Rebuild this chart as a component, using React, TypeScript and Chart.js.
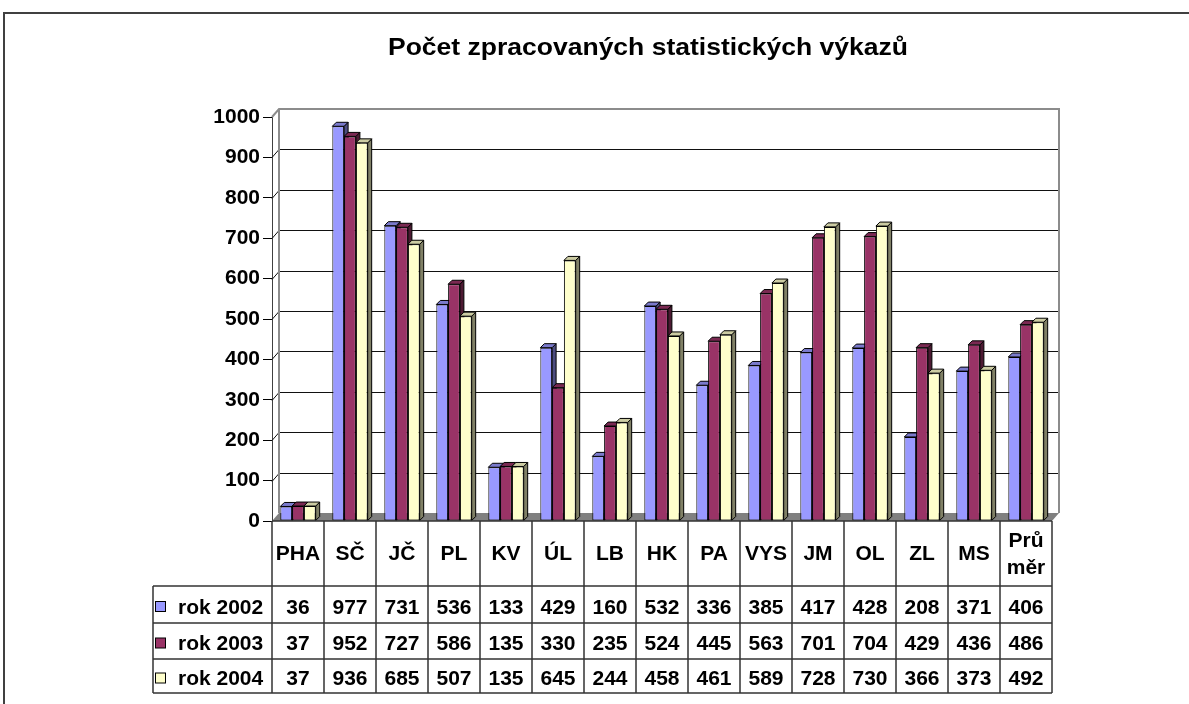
import React, { useEffect, useRef } from 'react';
import { Chart, registerables } from 'chart.js';

Chart.register(...registerables);

const TITLE = 'Počet zpracovaných statistických výkazů';
const CATEGORIES: (string | string[])[] = [
  'PHA', 'SČ', 'JČ', 'PL', 'KV', 'ÚL', 'LB', 'HK', 'PA', 'VYS', 'JM', 'OL', 'ZL', 'MS', ['Prů', 'měr'],
];
const SERIES_LABELS = ['rok 2002', 'rok 2003', 'rok 2004'];
const ROK_2002 = [36, 977, 731, 536, 133, 429, 160, 532, 336, 385, 417, 428, 208, 371, 406];
const ROK_2003 = [37, 952, 727, 586, 135, 330, 235, 524, 445, 563, 701, 704, 429, 436, 486];
const ROK_2004 = [37, 936, 685, 507, 135, 645, 244, 458, 461, 589, 728, 730, 366, 373, 492];
const Y_MIN = 0;
const Y_MAX = 1000;
const Y_STEP = 100;

const FRONT = ['#9999FF', '#993366', '#FFFFCC'];
const TOP = ['#7A7ACC', '#7A2952', '#CCCCA3'];
const SIDE = ['#4D4D80', '#4D1A33', '#808066'];

const FONT = '"Liberation Sans", Arial, sans-serif';
const TEXT_SIZE = 21;
const BAR_DEPTH = 4;
const WALL_DX = 7;
const WALL_DY = 8;

const excelPlugin = {
  id: 'excel3d',
  beforeDatasetsDraw(chart: any) {
    const { ctx, chartArea: a } = chart;
    const y = chart.scales.y;
    const L = a.left, R = a.right, T = a.top, B = a.bottom;
    ctx.save();
    // grid lines on the side and back wall
    ctx.lineWidth = 1;
    ctx.strokeStyle = '#111';
    y.ticks.forEach((t: any) => {
      if (t.value <= Y_MIN || t.value >= Y_MAX) return;
      const py = Math.round(y.getPixelForValue(t.value)) + 0.5;
      ctx.beginPath();
      ctx.moveTo(L, py);
      ctx.lineTo(L + WALL_DX, py - WALL_DY);
      ctx.lineTo(R + WALL_DX, py - WALL_DY);
      ctx.stroke();
    });
    // wall outline
    ctx.strokeStyle = '#8c8c8c';
    ctx.lineWidth = 2;
    ctx.beginPath();
    ctx.moveTo(L, T);
    ctx.lineTo(L + WALL_DX, T - WALL_DY);
    ctx.lineTo(R + WALL_DX, T - WALL_DY);
    ctx.lineTo(R + WALL_DX, B - WALL_DY);
    ctx.moveTo(L + WALL_DX, T - WALL_DY);
    ctx.lineTo(L + WALL_DX, B - WALL_DY);
    ctx.stroke();
    // floor
    ctx.fillStyle = '#808080';
    ctx.beginPath();
    ctx.moveTo(L, B);
    ctx.lineTo(R, B);
    ctx.lineTo(R + WALL_DX, B - WALL_DY);
    ctx.lineTo(L + WALL_DX, B - WALL_DY);
    ctx.closePath();
    ctx.fill();
    // bar sides and tops
    ctx.lineWidth = 1;
    ctx.strokeStyle = '#000';
    const d = BAR_DEPTH;
    chart.data.datasets.forEach((_ds: any, i: number) => {
      const meta = chart.getDatasetMeta(i);
      meta.data.forEach((bar: any) => {
        const p = bar.getProps(['x', 'y', 'base', 'width'], true);
        const left = p.x - p.width / 2;
        const right = p.x + p.width / 2;
        const top = p.y;
        const base = p.base;
        ctx.fillStyle = SIDE[i];
        ctx.beginPath();
        ctx.moveTo(right, top);
        ctx.lineTo(right + d, top - d);
        ctx.lineTo(right + d, base - d);
        ctx.lineTo(right, base);
        ctx.closePath();
        ctx.fill();
        ctx.stroke();
        ctx.fillStyle = TOP[i];
        ctx.beginPath();
        ctx.moveTo(left, top);
        ctx.lineTo(left + d, top - d);
        ctx.lineTo(right + d, top - d);
        ctx.lineTo(right, top);
        ctx.closePath();
        ctx.fill();
        ctx.stroke();
      });
    });
    ctx.restore();
  },
  afterDraw(chart: any) {
    const { ctx, chartArea: a } = chart;
    const x = chart.scales.x;
    const L = a.left, R = a.right, B = a.bottom;
    const labels = chart.data.labels;
    const n = labels.length;
    const colW = (R - L) / n;
    const rows = [B, B + 65, B + 102, B + 138, B + 172];
    const legendLeft = 153;
    ctx.save();
    // table grid
    ctx.strokeStyle = '#333';
    ctx.lineWidth = 1.5;
    ctx.beginPath();
    ctx.moveTo(L, rows[0]);
    ctx.lineTo(R, rows[0]);
    for (let r = 1; r < rows.length; r++) {
      ctx.moveTo(legendLeft, rows[r]);
      ctx.lineTo(R, rows[r]);
    }
    for (let i = 0; i <= n; i++) {
      const px = L + i * colW;
      ctx.moveTo(px, rows[0]);
      ctx.lineTo(px, rows[4]);
    }
    ctx.moveTo(legendLeft, rows[1]);
    ctx.lineTo(legendLeft, rows[4]);
    ctx.stroke();

    ctx.fillStyle = '#000';
    ctx.font = `bold ${TEXT_SIZE}px ${FONT}`;
    ctx.textBaseline = 'alphabetic';
    ctx.textAlign = 'center';
    // header
    labels.forEach((lab: any, i: number) => {
      const cx = x.getPixelForValue(i);
      if (Array.isArray(lab)) {
        ctx.fillText(lab[0], cx, rows[0] + 26);
        ctx.fillText(lab[1], cx, rows[0] + 53);
      } else {
        ctx.fillText(lab, cx, rows[0] + 39);
      }
    });
    // data rows
    chart.data.datasets.forEach((ds: any, r: number) => {
      const top = rows[r + 1];
      const bot = rows[r + 2];
      const mid = (top + bot) / 2;
      ctx.textAlign = 'center';
      ds.data.forEach((v: number, i: number) => {
        ctx.fillText(String(v), x.getPixelForValue(i), mid + 9);
      });
      // legend key
      ctx.fillStyle = FRONT[r];
      ctx.fillRect(155.5, mid - 3, 10, 10);
      ctx.strokeStyle = '#000';
      ctx.lineWidth = 1;
      ctx.strokeRect(155.5, mid - 3, 10, 10);
      ctx.fillStyle = '#000';
      ctx.textAlign = 'left';
      ctx.fillText(ds.label, 178, mid + 9);
    });

    // title
    ctx.font = `bold 24px ${FONT}`;
    const w = ctx.measureText(TITLE).width;
    ctx.save();
    ctx.translate(chart.width / 2, 55);
    ctx.scale(520 / w, 1);
    ctx.textAlign = 'center';
    ctx.fillText(TITLE, 0, 0);
    ctx.restore();

    // outer frame
    ctx.strokeStyle = '#404040';
    ctx.lineWidth = 2;
    ctx.beginPath();
    ctx.moveTo(4, chart.height);
    ctx.lineTo(4, 13);
    ctx.lineTo(chart.width, 13);
    ctx.stroke();
    ctx.restore();
  },
};

export default function App() {
  const ref = useRef<HTMLCanvasElement | null>(null);
  useEffect(() => {
    document.documentElement.style.overflow = 'hidden';
    document.body.style.overflow = 'hidden';
    const canvas = ref.current!;
    const chart = new Chart(canvas, {
      type: 'bar',
      data: {
        labels: CATEGORIES,
        datasets: [ROK_2002, ROK_2003, ROK_2004].map((d, i) => ({
          label: SERIES_LABELS[i],
          data: d,
          backgroundColor: FRONT[i],
          borderColor: '#000',
          borderWidth: 1,
          borderSkipped: false,
          categoryPercentage: 0.68,
          barPercentage: 1,
          clip: false,
        })),
      },
      options: {
        animation: false,
        responsive: false,
        devicePixelRatio: 1,
        layout: { padding: { top: 117, bottom: 183, right: 244, left: 0 } },
        plugins: {
          legend: { display: false },
          title: { display: false },
          tooltip: { enabled: false },
        },
        scales: {
          x: { display: false },
          y: {
            min: Y_MIN,
            max: Y_MAX,
            ticks: {
              stepSize: Y_STEP,
              color: '#000',
              font: { family: FONT, size: TEXT_SIZE, weight: 'bold' },
              padding: 3,
              callback: (v: any) => String(v),
            },
            grid: { drawOnChartArea: false, drawTicks: true, tickLength: 9, color: '#000' },
            border: { display: true, color: '#404040', width: 1 },
            afterFit: (s: any) => {
              s.width = 272;
            },
          },
        },
      } as any,
      plugins: [excelPlugin],
    });
    return () => chart.destroy();
  }, []);
  return (
    <div
      style={{
        position: 'fixed',
        left: 0,
        top: 0,
        width: 1296,
        height: 704,
        overflow: 'hidden',
        background: '#fff',
      }}
    >
      <canvas ref={ref} width={1296} height={704} style={{ display: 'block' }} />
    </div>
  );
}
